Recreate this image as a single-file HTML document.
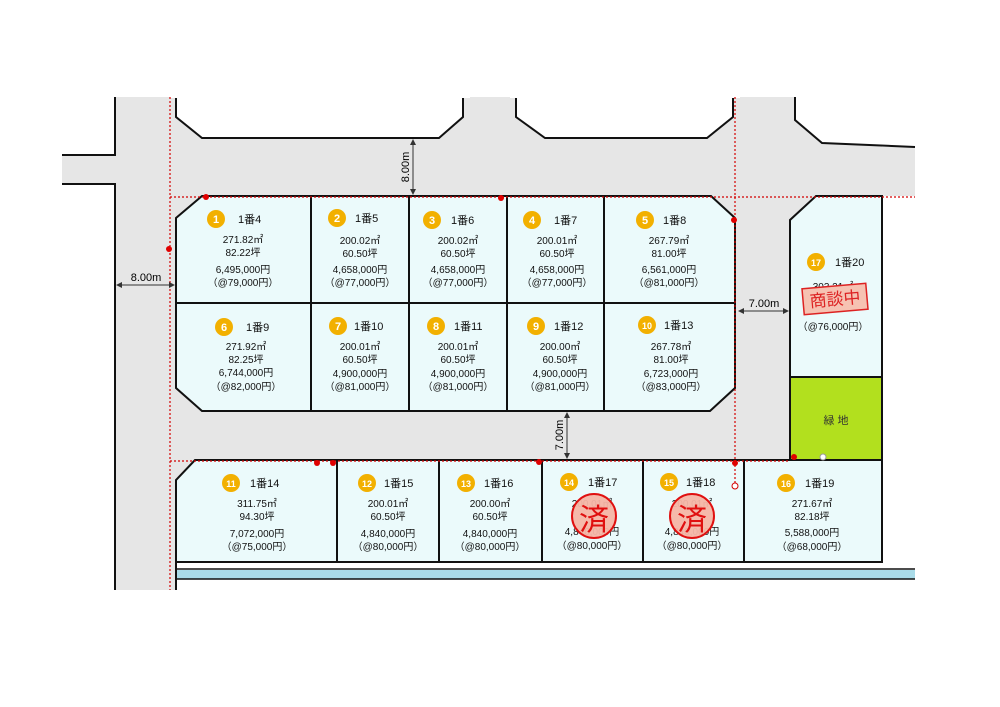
<!DOCTYPE html>
<html><head><meta charset="utf-8"><style>
html,body{margin:0;padding:0;background:#fff;}
svg{display:block;font-family:"Liberation Sans","Noto Sans CJK JP",sans-serif;}
.t{font-size:10px;fill:#111;text-anchor:middle;}
.h{font-size:11px;fill:#111;}
.n{font-size:11px;fill:#fff;font-weight:bold;text-anchor:middle;}
</style></head><body>
<svg width="1000" height="707" viewBox="0 0 1000 707">
<defs><marker id="a" markerWidth="6" markerHeight="6" refX="5" refY="3" orient="auto-start-reverse"><path d="M0,0 L6,3 L0,6 z" fill="#333"/></marker></defs>
<!-- roads -->
<rect x="115" y="97" width="767" height="465" fill="#e6e6e6"/>
<rect x="115" y="562" width="61" height="28" fill="#e6e6e6"/>
<rect x="62" y="155" width="53" height="29" fill="#e6e6e6"/>
<rect x="882" y="147" width="33" height="49" fill="#e6e6e6"/>
<rect x="882" y="196" width="40" height="370" fill="#fff"/>
<!-- top white blocks -->
<polygon points="176,97 463,97 463,117 439,138 202,138 176,117" fill="#fff" stroke="#111" stroke-width="2"/>
<rect x="170" y="90" width="300" height="8" fill="#fff"/>
<polygon points="516,97 733,97 733,117 707,138 545,138 516,117" fill="#fff" stroke="#111" stroke-width="2"/>
<rect x="510" y="90" width="230" height="8" fill="#fff"/>
<polygon points="795,97 795,120 822,143 915,147 915,97" fill="#fff"/>
<polyline points="795,97 795,120 822,143 915,147" fill="none" stroke="#111" stroke-width="2"/>
<!-- left road lines -->
<polyline points="115,97 115,155 62,155" fill="none" stroke="#111" stroke-width="2"/>
<polyline points="62,184 115,184 115,590" fill="none" stroke="#111" stroke-width="2"/>
<!-- lots rows 1-2 -->
<polygon points="202,196 711,196 735,218 735,388 710,411 202,411 176,388 176,218" fill="#ebfafb" stroke="#111" stroke-width="2"/>
<line x1="176" y1="303" x2="735" y2="303" stroke="#111" stroke-width="2"/>
<line x1="311" y1="196" x2="311" y2="411" stroke="#111" stroke-width="2"/>
<line x1="409" y1="196" x2="409" y2="411" stroke="#111" stroke-width="2"/>
<line x1="507" y1="196" x2="507" y2="411" stroke="#111" stroke-width="2"/>
<line x1="604" y1="196" x2="604" y2="411" stroke="#111" stroke-width="2"/>
<!-- lot 17 + green -->
<polygon points="816,196 882,196 882,377 790,377 790,220" fill="#ebfafb" stroke="#111" stroke-width="2"/>
<rect x="790" y="377" width="92" height="83" fill="#b2e01e" stroke="#111" stroke-width="2"/>
<text x="836" y="424" style="font-size:11px;fill:#333;text-anchor:middle">緑 地</text>
<!-- bottom row -->
<polygon points="195,460 882,460 882,562 176,562 176,480" fill="#ebfafb" stroke="#111" stroke-width="2"/>
<line x1="337" y1="460" x2="337" y2="562" stroke="#111" stroke-width="2"/>
<line x1="439" y1="460" x2="439" y2="562" stroke="#111" stroke-width="2"/>
<line x1="542" y1="460" x2="542" y2="562" stroke="#111" stroke-width="2"/>
<line x1="643" y1="460" x2="643" y2="562" stroke="#111" stroke-width="2"/>
<line x1="744" y1="460" x2="744" y2="562" stroke="#111" stroke-width="2"/>
<!-- strip -->
<rect x="176" y="570" width="739" height="9" fill="#a9dbe8"/>
<line x1="176" y1="569" x2="915" y2="569" stroke="#111" stroke-width="1.5"/>
<line x1="176" y1="579" x2="915" y2="579" stroke="#111" stroke-width="1.5"/>
<line x1="176" y1="562" x2="176" y2="590" stroke="#111" stroke-width="2"/>
<!-- red dotted -->
<g stroke="#d40000" stroke-width="1.2" stroke-dasharray="2,2" fill="none">
<line x1="170" y1="97" x2="170" y2="590"/>
<line x1="170" y1="197" x2="915" y2="197"/>
<line x1="735" y1="97" x2="735" y2="488"/>
<line x1="170" y1="461" x2="790" y2="461"/>
</g>
<g fill="#e00000">
<circle cx="206" cy="197" r="3"/><circle cx="501" cy="198" r="3"/><circle cx="734" cy="220" r="3"/>
<circle cx="169" cy="249" r="3"/><circle cx="317" cy="463" r="3"/><circle cx="333" cy="463" r="3"/>
<circle cx="539" cy="462" r="3"/><circle cx="735" cy="463" r="3"/><circle cx="794" cy="457" r="3"/>
</g>
<circle cx="735" cy="486" r="3" fill="#fff" stroke="#d40000"/>
<circle cx="823" cy="457" r="3" fill="#fff" stroke="#999"/>
<!-- dims -->
<g stroke="#333" stroke-width="1">
<line x1="413" y1="140" x2="413" y2="194" marker-start="url(#a)" marker-end="url(#a)"/>
<line x1="117" y1="285" x2="174" y2="285" marker-start="url(#a)" marker-end="url(#a)"/>
<line x1="739" y1="311" x2="788" y2="311" marker-start="url(#a)" marker-end="url(#a)"/>
<line x1="567" y1="413" x2="567" y2="458" marker-start="url(#a)" marker-end="url(#a)"/>
</g>
<text x="0" y="0" transform="translate(409,167) rotate(-90)" style="font-size:11px;text-anchor:middle">8.00m</text>
<text x="146" y="281" style="font-size:11px;text-anchor:middle">8.00m</text>
<text x="764" y="307" style="font-size:11px;text-anchor:middle">7.00m</text>
<text x="0" y="0" transform="translate(563,435) rotate(-90)" style="font-size:11px;text-anchor:middle">7.00m</text>
<!-- lot labels -->
<g>
<circle cx="216" cy="219" r="9" fill="#f2b000"/><text class="n" x="216" y="223">1</text><text class="h" x="238" y="223">1番4</text>
<text class="t" x="243" y="243">271.82㎡</text><text class="t" x="243" y="256">82.22坪</text><text class="t" x="243" y="273">6,495,000円</text><text class="t" x="243" y="286">（@79,000円）</text>
<circle cx="337" cy="218" r="9" fill="#f2b000"/><text class="n" x="337" y="222">2</text><text class="h" x="355" y="222">1番5</text>
<text class="t" x="360" y="244">200.02㎡</text><text class="t" x="360" y="257">60.50坪</text><text class="t" x="360" y="273">4,658,000円</text><text class="t" x="360" y="286">（@77,000円）</text>
<circle cx="432" cy="220" r="9" fill="#f2b000"/><text class="n" x="432" y="224">3</text><text class="h" x="451" y="224">1番6</text>
<text class="t" x="458" y="244">200.02㎡</text><text class="t" x="458" y="257">60.50坪</text><text class="t" x="458" y="273">4,658,000円</text><text class="t" x="458" y="286">（@77,000円）</text>
<circle cx="532" cy="220" r="9" fill="#f2b000"/><text class="n" x="532" y="224">4</text><text class="h" x="554" y="224">1番7</text>
<text class="t" x="557" y="244">200.01㎡</text><text class="t" x="557" y="257">60.50坪</text><text class="t" x="557" y="273">4,658,000円</text><text class="t" x="557" y="286">（@77,000円）</text>
<circle cx="645" cy="220" r="9" fill="#f2b000"/><text class="n" x="645" y="224">5</text><text class="h" x="663" y="224">1番8</text>
<text class="t" x="669" y="244">267.79㎡</text><text class="t" x="669" y="257">81.00坪</text><text class="t" x="669" y="273">6,561,000円</text><text class="t" x="669" y="286">（@81,000円）</text>

<circle cx="224" cy="327" r="9" fill="#f2b000"/><text class="n" x="224" y="331">6</text><text class="h" x="246" y="331">1番9</text>
<text class="t" x="246" y="350">271.92㎡</text><text class="t" x="246" y="363">82.25坪</text><text class="t" x="246" y="376">6,744,000円</text><text class="t" x="246" y="390">（@82,000円）</text>
<circle cx="338" cy="326" r="9" fill="#f2b000"/><text class="n" x="338" y="330">7</text><text class="h" x="354" y="330">1番10</text>
<text class="t" x="360" y="350">200.01㎡</text><text class="t" x="360" y="363">60.50坪</text><text class="t" x="360" y="377">4,900,000円</text><text class="t" x="360" y="390">（@81,000円）</text>
<circle cx="436" cy="326" r="9" fill="#f2b000"/><text class="n" x="436" y="330">8</text><text class="h" x="454" y="330">1番11</text>
<text class="t" x="458" y="350">200.01㎡</text><text class="t" x="458" y="363">60.50坪</text><text class="t" x="458" y="377">4,900,000円</text><text class="t" x="458" y="390">（@81,000円）</text>
<circle cx="536" cy="326" r="9" fill="#f2b000"/><text class="n" x="536" y="330">9</text><text class="h" x="554" y="330">1番12</text>
<text class="t" x="560" y="350">200.00㎡</text><text class="t" x="560" y="363">60.50坪</text><text class="t" x="560" y="377">4,900,000円</text><text class="t" x="560" y="390">（@81,000円）</text>
<circle cx="647" cy="325" r="9" fill="#f2b000"/><text class="n" x="647" y="329" style="font-size:9px">10</text><text class="h" x="664" y="329">1番13</text>
<text class="t" x="671" y="350">267.78㎡</text><text class="t" x="671" y="363">81.00坪</text><text class="t" x="671" y="377">6,723,000円</text><text class="t" x="671" y="390">（@83,000円）</text>

<circle cx="816" cy="262" r="9" fill="#f2b000"/><text class="n" x="816" y="266" style="font-size:9px">17</text><text class="h" x="835" y="266">1番20</text>
<text class="t" x="833" y="290">303.21㎡</text>
<text class="t" x="833" y="330">（@76,000円）</text>
<g transform="rotate(-5 835 299)"><rect x="803" y="286" width="64" height="26" fill="#f6c2b2" stroke="#d22" stroke-width="1.5"/>
<text x="835" y="305" style="font-size:17px;fill:#d22;text-anchor:middle">商談中</text></g>

<circle cx="231" cy="483" r="9" fill="#f2b000"/><text class="n" x="231" y="487" style="font-size:9px">11</text><text class="h" x="250" y="487">1番14</text>
<text class="t" x="257" y="507">311.75㎡</text><text class="t" x="257" y="520">94.30坪</text><text class="t" x="257" y="537">7,072,000円</text><text class="t" x="257" y="550">（@75,000円）</text>
<circle cx="367" cy="483" r="9" fill="#f2b000"/><text class="n" x="367" y="487" style="font-size:9px">12</text><text class="h" x="384" y="487">1番15</text>
<text class="t" x="388" y="507">200.01㎡</text><text class="t" x="388" y="520">60.50坪</text><text class="t" x="388" y="537">4,840,000円</text><text class="t" x="388" y="550">（@80,000円）</text>
<circle cx="466" cy="483" r="9" fill="#f2b000"/><text class="n" x="466" y="487" style="font-size:9px">13</text><text class="h" x="484" y="487">1番16</text>
<text class="t" x="490" y="507">200.00㎡</text><text class="t" x="490" y="520">60.50坪</text><text class="t" x="490" y="537">4,840,000円</text><text class="t" x="490" y="550">（@80,000円）</text>
<circle cx="569" cy="482" r="9" fill="#f2b000"/><text class="n" x="569" y="486" style="font-size:9px">14</text><text class="h" x="588" y="486">1番17</text>
<text class="t" x="592" y="507">200.01㎡</text><text class="t" x="592" y="535">4,840,000円</text><text class="t" x="592" y="549">（@80,000円）</text>
<circle cx="669" cy="482" r="9" fill="#f2b000"/><text class="n" x="669" y="486" style="font-size:9px">15</text><text class="h" x="686" y="486">1番18</text>
<text class="t" x="692" y="507">200.01㎡</text><text class="t" x="692" y="535">4,840,000円</text><text class="t" x="692" y="549">（@80,000円）</text>
<circle cx="786" cy="483" r="9" fill="#f2b000"/><text class="n" x="786" y="487" style="font-size:9px">16</text><text class="h" x="805" y="487">1番19</text>
<text class="t" x="812" y="507">271.67㎡</text><text class="t" x="812" y="520">82.18坪</text><text class="t" x="812" y="536">5,588,000円</text><text class="t" x="812" y="550">（@68,000円）</text>

<circle cx="594" cy="516" r="22" fill="#f5b5a5" fill-opacity="0.95" stroke="#e01010" stroke-width="2"/>
<text x="594" y="530" style="font-size:30px;fill:#e01010;text-anchor:middle">済</text>
<circle cx="692" cy="516" r="22" fill="#f5b5a5" fill-opacity="0.95" stroke="#e01010" stroke-width="2"/>
<text x="692" y="530" style="font-size:30px;fill:#e01010;text-anchor:middle">済</text>
</g>
</svg>
</body></html>
